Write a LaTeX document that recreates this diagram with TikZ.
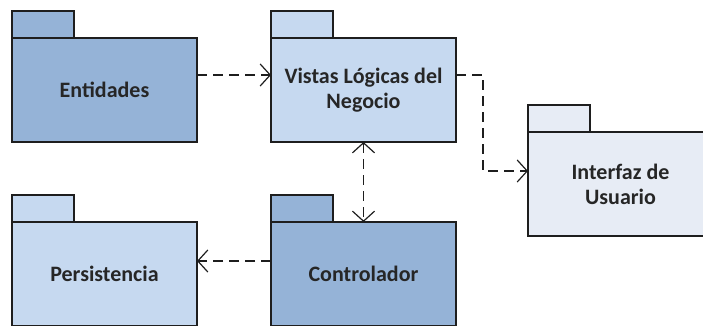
\documentclass[tikz,border=0pt]{standalone}
\usepackage{fontspec}
\setmainfont{Carlito}
\usepackage{tikz}
\usetikzlibrary{positioning}
\usetikzlibrary{arrows.meta}

\definecolor{pkgDark}{RGB}{149,179,215}
\definecolor{pkgLight}{RGB}{198,217,240}
\definecolor{pkgPale}{RGB}{231,236,245}
\definecolor{pkgLine}{RGB}{30,30,30}

\begin{document}
\begin{tikzpicture}[x=1pt, y=1pt,
        pkg/.style={rectangle, draw=pkgLine, line width=1.6pt, outer sep=0pt, minimum width=185pt, minimum height=104pt, align=center, text=black!85, font=\fontsize{22}{25}\selectfont\bfseries},
        dark/.style={pkg, fill=pkgDark},
        light/.style={pkg, fill=pkgLight},
        pale/.style={pkg, fill=pkgPale, minimum width=205pt},
        tab/.style={rectangle, draw=pkgLine, line width=1.6pt, outer sep=0pt, minimum width=62pt, minimum height=27pt, anchor=south west},
        dep/.style={dashed, dash pattern=on 10pt off 6pt, line width=1.4pt, pkgLine, -{Straight Barb[length=10pt, width=22pt, line width=1.2pt]}}
    ]
        \useasboundingbox (0,0) rectangle (703,325);

        \node[dark](ent) at (104.5,235) {Entidades};
            \node[light](vis)[right=74pt of ent] {Vistas Lógicas del\\Negocio};
                \node[dark](con)[below=80pt of vis] {Controlador};
                \node[light](per)[left=74pt of con] {Persistencia};
            \node[pale](int) at (630.5,141) {Interfaz de\hspace*{20pt}\\Usuario\hspace*{20pt}};

        \node[tab, fill=pkgDark](entTab) at (ent.north west) {};
        \node[tab, fill=pkgLight](visTab) at (vis.north west) {};
        \node[tab, fill=pkgDark](conTab) at (con.north west) {};
        \node[tab, fill=pkgLight](perTab) at (per.north west) {};
        \node[tab, fill=pkgPale](intTab) at (int.north west) {};

        \draw[dep] ([yshift=15pt]ent.east) -- ([yshift=15pt]vis.west);
        \draw[dep] ([yshift=15pt]vis.east) -- ++(27pt,0) |- ([yshift=13pt]int.west);
        \draw[dep, {Straight Barb[length=10pt, width=22pt, line width=1.2pt]}-{Straight Barb[length=10pt, width=22pt, line width=1.2pt]}] (vis.south) -- (con.north);
        \draw[dep] ([yshift=13pt]con.west) -- ([yshift=13pt]per.east);
    \end{tikzpicture}
\end{document}
